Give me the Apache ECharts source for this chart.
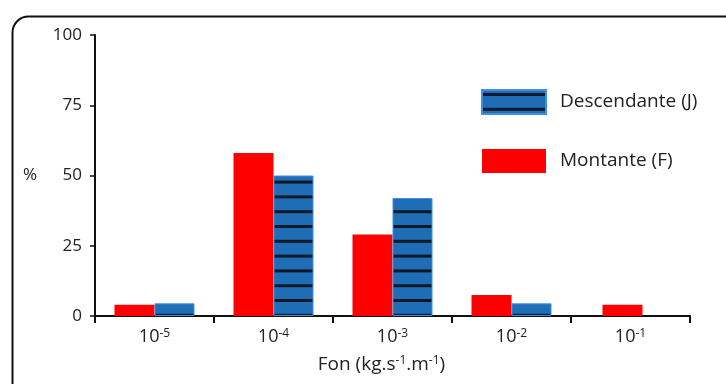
<!DOCTYPE html>
<html><head><meta charset="utf-8">
<script src="https://cdn.jsdelivr.net/npm/echarts@6/dist/echarts.min.js"></script>
<style>html,body{margin:0;padding:0;background:#fff}#c{width:726px;height:384px}</style>
</head><body><div id="c"></div>
<script>
// Data
const exponents = ['-5', '-4', '-3', '-2', '-1'];
const montante = [4, 58, 29, 7.5, null];          // red, grouped with blue
const descendante = [4.5, 50, 42, 4.5, null];     // blue striped
const montanteAlone = [null, null, null, null, 4]; // red bar without partner at 10^-1
const yMin = 0, yMax = 100, yStep = 25;
const nameM = 'Montante (F)';
const nameD = 'Descendante (J)';

// Striped pattern for the blue series
function makeStripes() {
  const c = document.createElement('canvas');
  c.width = 8; c.height = 148;
  const ctx = c.getContext('2d');
  ctx.fillStyle = '#1f6db5';
  ctx.fillRect(0, 0, c.width, c.height);
  ctx.fillStyle = '#0e1a2a';
  for (let k = 0; k < 10; k++) {
    const y = 4.5 + 14.8 * k;
    ctx.fillRect(0, y - 1.5, c.width, 3);
  }
  return c;
}
const stripes = { image: makeStripes(), repeat: 'repeat' };

const FONT = 'Open Sans';
const chart = echarts.init(document.getElementById('c'), null, { renderer: 'canvas' });
const sup = { fontFamily: FONT, fontSize: 12, color: '#222', verticalAlign: 'top' };
chart.setOption({
  backgroundColor: '#fff',
  animation: false,
  graphic: [{
    type: 'rect', left: 10, top: 14, silent: true,
    shape: { width: 730, height: 390, r: 16 },
    style: { fill: 'none', stroke: '#111', lineWidth: 2 }
  }],
  grid: { left: 95, right: 36, top: 35, bottom: 68 },
  legend: {
    orient: 'vertical', left: 481, top: 89, padding: 0,
    itemWidth: 64, itemHeight: 24, itemGap: 34,
    icon: 'rect',
    data: [nameD, nameM],
    textStyle: { fontFamily: FONT, fontSize: 19, color: '#222', padding: [0, 0, 0, 9] }
  },
  xAxis: [{
    type: 'category',
    data: exponents,
    name: '{b|Fon (kg.s}{s|-1}{b|.m}{s|-1}{b|)}',
    nameLocation: 'middle',
    nameGap: 39,
    nameTextStyle: {
      fontFamily: FONT, fontSize: 19, color: '#222', padding: [0, 22, 0, 0],
      rich: { b: { fontFamily: FONT, fontSize: 19, color: '#222' }, s: sup }
    },
    axisLine: { lineStyle: { color: '#111', width: 2 } },
    axisTick: { show: true, interval: 0, length: 7, lineStyle: { color: '#111', width: 2 } },
    axisLabel: {
      interval: 0, hideOverlap: false,
      margin: 12, fontSize: 18, fontFamily: FONT, color: '#222',
      formatter: v => '{b|10}{s|' + v + '}',
      rich: { b: { fontSize: 18, fontFamily: FONT, color: '#222' }, s: sup }
    }
  }, {
    type: 'category', data: exponents, show: false
  }],
  yAxis: {
    type: 'value', min: yMin, max: yMax, interval: yStep,
    name: '%', nameLocation: 'middle', nameRotate: 0, nameGap: 58,
    nameTextStyle: { fontFamily: FONT, fontSize: 17, color: '#222' },
    splitLine: { show: false },
    axisLine: { show: true, lineStyle: { color: '#111', width: 2 } },
    axisTick: { show: true, length: 5, lineStyle: { color: '#111', width: 1.5 } },
    axisLabel: { margin: 13, fontFamily: FONT, fontSize: 17, color: '#222' }
  },
  series: [{
    name: nameM, type: 'bar', data: montante, barWidth: 40, barGap: '0%',
    itemStyle: { color: '#ff0000' }
  }, {
    name: nameD, type: 'bar', data: descendante, barWidth: 40, barGap: '0%',
    itemStyle: { color: stripes, borderColor: '#3f8fe8', borderWidth: 1 }
  }, {
    name: nameM, type: 'bar', xAxisIndex: 1, data: montanteAlone, barWidth: 40, barGap: '-60%',
    itemStyle: { color: '#ff0000' }
  }, {
    name: 'spacer', type: 'bar', xAxisIndex: 1, data: [null, null, null, null, null], barWidth: 40, barGap: '-60%',
    itemStyle: { color: 'transparent' }
  }]
});
</script></body></html>
